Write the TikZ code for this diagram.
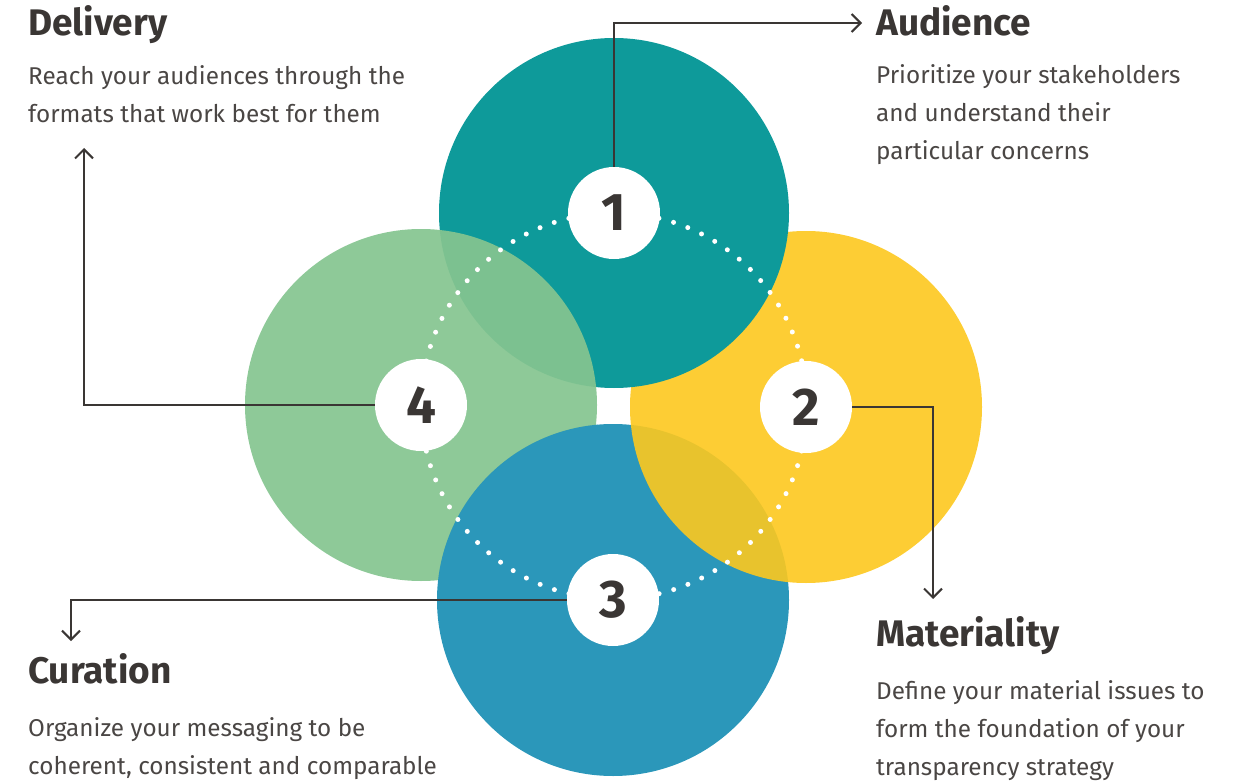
\documentclass[tikz,border=0pt]{standalone}
\usepackage{fontspec}
\setmainfont{Fira Sans}
\usetikzlibrary{arrows.meta}
\definecolor{tealc}{HTML}{0E9A9A}
\definecolor{yelc}{HTML}{FDC81E}
\definecolor{bluec}{HTML}{2B97BA}
\definecolor{greenc}{HTML}{85C590}
\definecolor{ink}{HTML}{3A3634}
\definecolor{bodyc}{HTML}{4A4644}
\begin{document}
\begin{tikzpicture}[x=1pt,y=-1pt,
 num/.style={circle, fill=white, minimum size=92pt, inner sep=0pt, font=\fontsize{53}{53}\selectfont\bfseries, text=ink},
 head/.style={anchor=base west, inner sep=0pt, font=\fontsize{37}{40}\selectfont\bfseries, text=ink},
 desc/.style={anchor=base west, inner sep=0pt, align=left, font=\fontsize{24.3}{38}\selectfont, text=bodyc},
 conn/.style={draw=ink, line width=2pt, -{Straight Barb[length=9pt,width=18pt]}}
]
\useasboundingbox (0,0) rectangle (1240,781);
% discs
\fill[bluec] (613,600) circle (176);
\fill[yelc, fill opacity=0.9] (806,407) circle (176);
\fill[tealc] (614,213) circle (175);
\fill[greenc, fill opacity=0.93] (421,405) circle (176);
\begin{scope}
 \clip (421,405) circle (177.5);
 \fill[bluec] (613,600) circle (176);
\end{scope}
% dotted ring
\draw[white, line width=5pt, line cap=round, dash pattern=on 0pt off 15.158pt] (614,406) circle (193);
% number nodes
\node[num] (n1) at (614,213) {1};
\node[num] (n2) at (806,407) {2};
\node[num] (n3) at (613,600) {3};
\node[num] (n4) at (421,405) {4};
% headings and descriptions (base anchor = last line)
\node[head] (hdel) at (28,36) {Delivery};
\node[desc] (ddel) at (28,122.5) {Reach your audiences through the\\formats that work best for them};
\node[head] (haud) at (876,36) {Audience};
\node[desc] (daud) at (876,159.5) {Prioritize your stakeholders\\and understand their\\particular concerns};
\node[head] (hmat) at (876,646) {Materiality};
\node[desc] (dmat) at (876,775) {Define your material issues to\\form the foundation of your\\transparency strategy};
\node[head] (hcur) at (28,683) {Curation};
\node[desc] (dcur) at (28,774.5) {Organize your messaging to be\\coherent, consistent and comparable};
% arrow ends
\coordinate (e1) at (862,23);
\coordinate (e2) at (933,599);
\coordinate (e3) at (71,641);
\coordinate (e4) at (84,148);
\draw[conn] (n1.north) |- (e1);
\draw[conn] (n2.east) -| (e2);
\draw[conn] (n3.west) -| (e3);
\draw[conn] (n4.west) -| (e4);
\end{tikzpicture}
\end{document}
